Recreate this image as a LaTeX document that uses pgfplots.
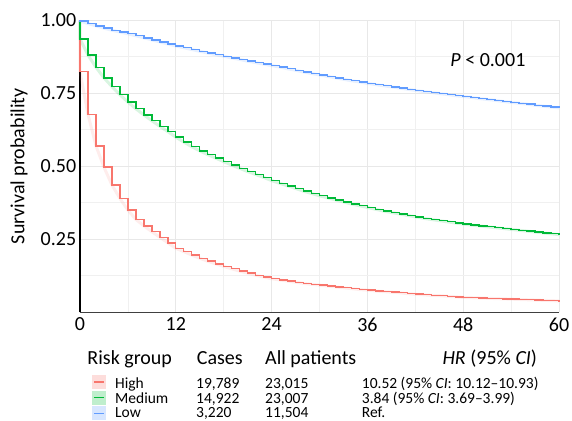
\documentclass[border=0pt]{standalone}
\usepackage{fontspec}
\setmainfont{Carlito}
\usepackage{pgfplots}
\pgfplotsset{compat=1.18}
\usepackage{pgfplotstable}

\definecolor{cHigh}{HTML}{F8766D}
\definecolor{cMed}{HTML}{00BA38}
\definecolor{cLow}{HTML}{619CFF}

\newcommand\fbig{\fontsize{20bp}{24bp}\selectfont}
\newcommand\fsmall{\fontsize{15.5bp}{18bp}\selectfont}

% Kaplan-Meier estimates, monthly steps
\pgfplotstableread{
t s
0 1
0 0.824
1 0.678
2 0.570
3 0.497
4 0.436
5 0.390
6 0.350
7 0.318
8 0.296
9 0.276
10 0.257
11 0.238
12 0.219
13 0.208
14 0.196
15 0.185
16 0.175
17 0.166
18 0.157
19 0.149
20 0.141
21 0.134
22 0.127
23 0.121
24 0.115
25 0.111
26 0.107
27 0.103
28 0.099
29 0.096
30 0.093
31 0.090
32 0.087
33 0.084
34 0.081
35 0.078
36 0.076
37 0.073
38 0.071
39 0.069
40 0.067
41 0.064
42 0.062
43 0.060
44 0.058
45 0.057
46 0.055
47 0.053
48 0.051
49 0.050
50 0.049
51 0.048
52 0.047
53 0.046
54 0.045
55 0.044
56 0.043
57 0.042
58 0.041
59 0.040
60 0.039
}\high

\pgfplotstableread{
t s
0 1
0 0.936
1 0.881
2 0.839
3 0.803
4 0.773
5 0.745
6 0.720
7 0.697
8 0.676
9 0.656
10 0.637
11 0.619
12 0.600
13 0.583
14 0.567
15 0.553
16 0.540
17 0.528
18 0.516
19 0.504
20 0.493
21 0.482
22 0.472
23 0.462
24 0.451
25 0.442
26 0.433
27 0.424
28 0.415
29 0.407
30 0.399
31 0.392
32 0.385
33 0.378
34 0.371
35 0.365
36 0.359
37 0.353
38 0.347
39 0.342
40 0.337
41 0.332
42 0.327
43 0.322
44 0.318
45 0.314
46 0.310
47 0.306
48 0.302
49 0.299
50 0.296
51 0.293
52 0.290
53 0.287
54 0.284
55 0.281
56 0.278
57 0.275
58 0.272
59 0.269
60 0.266
}\medium

\pgfplotstableread{
t s
0 1
0 0.997
1 0.989
2 0.981
3 0.973
4 0.966
5 0.960
6 0.954
7 0.947
8 0.940
9 0.933
10 0.926
11 0.919
12 0.912
13 0.906
14 0.900
15 0.894
16 0.888
17 0.882
18 0.877
19 0.871
20 0.866
21 0.860
22 0.855
23 0.850
24 0.845
25 0.840
26 0.834
27 0.829
28 0.823
29 0.818
30 0.813
31 0.808
32 0.803
33 0.798
34 0.793
35 0.789
36 0.784
37 0.780
38 0.776
39 0.772
40 0.768
41 0.764
42 0.760
43 0.756
44 0.753
45 0.749
46 0.746
47 0.742
48 0.739
49 0.736
50 0.732
51 0.729
52 0.726
53 0.722
54 0.719
55 0.716
56 0.713
57 0.709
58 0.706
59 0.703
60 0.700
}\low

\begin{document}
\begin{tikzpicture}
\useasboundingbox (-80bp,-108.7bp) rectangle (492bp,312.3bp);
\begin{axis}[
    at={(0,0)}, anchor=south west,
    scale only axis,
    width=479bp, height=292bp,
    xmin=0, xmax=60, ymin=0, ymax=1,
    xtick={0,12,24,36,48,60},
    minor xtick={6,18,30,42,54},
    ytick={0.25,0.5,0.75,1},
    minor ytick={0.125,0.375,0.625,0.875},
    grid=both,
    major grid style={draw=black!9, line width=0.6bp},
    minor grid style={draw=black!6, line width=0.6bp},
    axis x line=bottom, axis y line=left,
    x axis line style={-, line width=1.3bp, black!75},
    y axis line style={-, line width=1.2bp, black},
    tick style={draw=none},
    /pgf/number format/assume math mode=true,
    ticklabel style={font=\fbig},
    yticklabel style={/pgf/number format/fixed, /pgf/number format/fixed zerofill,
        /pgf/number format/precision=2, inner sep=1.5bp},
    ylabel={Survival probability},
    ylabel style={at={(rel axis cs:-0.127,0.5)}, anchor=center, font=\fbig},
    clip=false,
]
\addplot[no marks, draw=cHigh, draw opacity=0.13, line width=3bp, forget plot] table[x=t,y=s] {\high};
\addplot[no marks, draw=cMed, draw opacity=0.15, line width=3bp, forget plot] table[x=t,y=s] {\medium};
\addplot[no marks, draw=cLow, draw opacity=0.15, line width=3bp, forget plot] table[x=t,y=s] {\low};
\addplot[const plot, no marks, draw=cHigh, line width=1.4bp] table[x=t,y=s] {\high};
\addplot[const plot, no marks, draw=cMed, line width=1.4bp] table[x=t,y=s] {\medium};
\addplot[const plot, no marks, draw=cLow, line width=1.4bp] table[x=t,y=s] {\low};
\node[anchor=base, font=\fbig] at (axis cs:51.1,0.841) {\textit{P} < 0.001};
\end{axis}

% risk table below the plot
\node[anchor=base west, font=\fbig, inner sep=0] at (7.3bp,-52bp) {Risk group};
\node[anchor=base west, font=\fbig, inner sep=0] at (116.7bp,-52bp) {Cases};
\node[anchor=base west, font=\fbig, inner sep=0] at (185bp,-52bp) {All patients};
\node[anchor=base west, font=\fbig, inner sep=0] at (362.3bp,-52bp) {\textit{HR} (95\% \textit{CI})};

\fill[cHigh!25] (12.3bp,-76.7bp) rectangle ++(13.7bp,14bp);
\draw[cHigh, line width=1.3bp] (14.3bp,-69.7bp) -- ++(9.7bp,0);
\fill[cMed!25] (12.3bp,-92.4bp) rectangle ++(13.7bp,14bp);
\draw[cMed, line width=1.3bp] (14.3bp,-85.4bp) -- ++(9.7bp,0);
\fill[cLow!25] (12.3bp,-108bp) rectangle ++(13.7bp,14bp);
\draw[cLow, line width=1.3bp] (14.3bp,-101bp) -- ++(9.7bp,0);

\node[anchor=base west, font=\fsmall, inner sep=0] at (35bp,-76bp) {High};
\node[anchor=base west, font=\fsmall, inner sep=0] at (116bp,-76bp) {19,789};
\node[anchor=base west, font=\fsmall, inner sep=0] at (185bp,-76bp) {23,015};
\node[anchor=base west, font=\fsmall, inner sep=0] at (281.7bp,-76bp) {10.52 (95\% \textit{CI}: 10.12–10.93)};

\node[anchor=base west, font=\fsmall, inner sep=0] at (35bp,-90.7bp) {Medium};
\node[anchor=base west, font=\fsmall, inner sep=0] at (116bp,-90.7bp) {14,922};
\node[anchor=base west, font=\fsmall, inner sep=0] at (185bp,-90.7bp) {23,007};
\node[anchor=base west, font=\fsmall, inner sep=0] at (281.7bp,-90.7bp) {3.84 (95\% \textit{CI}: 3.69–3.99)};

\node[anchor=base west, font=\fsmall, inner sep=0] at (35bp,-105.4bp) {Low};
\node[anchor=base west, font=\fsmall, inner sep=0] at (116bp,-105.4bp) {3,220};
\node[anchor=base west, font=\fsmall, inner sep=0] at (185bp,-105.4bp) {11,504};
\node[anchor=base west, font=\fsmall, inner sep=0] at (281.7bp,-105.4bp) {Ref.};
\end{tikzpicture}
\end{document}
